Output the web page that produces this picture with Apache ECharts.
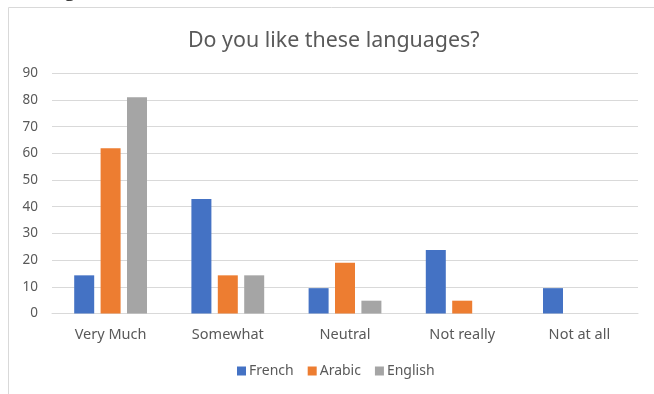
<!DOCTYPE html>
<html>
<head>
<meta charset="utf-8">
<script src="https://cdn.jsdelivr.net/npm/echarts@6/dist/echarts.min.js"></script>
<style>
  html, body { margin: 0; padding: 0; background: #ffffff; }
  #chart { width: 654px; height: 394px; }
</style>
</head>
<body>
<div id="chart"></div>
<script>
// Survey answers (share of 21 respondents, in %)
const categories = ['Very Much', 'Somewhat', 'Neutral', 'Not really', 'Not at all'];
const french  = [14.3, 42.9, 9.5, 23.8, 9.5];
const arabic  = [61.9, 14.3, 19.0, 4.8, 0];
const english = [81.0, 14.3, 4.8, 0, 0];
const yTicks  = [0, 10, 20, 30, 40, 50, 60, 70, 80, 90];

const FONT = 'Noto Sans';
const TEXT = '#595959';
const GRID = '#d9d9d9';

const chart = echarts.init(document.getElementById('chart'), null, { renderer: 'canvas' });

const bar = (name, data, color) => ({
  name, type: 'bar', data, barWidth: 20, barGap: '32%',
  itemStyle: { color },
  emphasis: { disabled: true }
});

chart.setOption({
  animation: false,
  textStyle: { fontFamily: FONT },
  title: {
    text: 'Do you like these languages?',
    left: 183, top: 25,
    textStyle: { fontFamily: FONT, fontSize: 21.4, fontWeight: 'normal', color: TEXT }
  },
  graphic: [
    { type: 'rect', shape: { x: 8.5, y: 7.5, width: 660, height: 420 },
      style: { fill: 'none', stroke: GRID, lineWidth: 1 }, silent: true, z: -1 },
    { type: 'text', left: 64, top: -21,
      style: { text: 'g', font: '22px "Liberation Serif"', fill: '#000000' }, silent: true }
  ],
  legend: {
    data: ['French', 'Arabic', 'English'],
    bottom: 11, left: 232,
    itemWidth: 9, itemHeight: 9, itemGap: 14,
    icon: 'rect',
    textStyle: { fontFamily: FONT, fontSize: 14, color: TEXT, padding: [0, 0, 0, -2] }
  },
  grid: { left: 52, right: 16, top: 73.3, bottom: 80.5, containLabel: false },
  xAxis: {
    type: 'category', data: categories,
    axisLine: { lineStyle: { color: GRID, width: 1 } },
    axisTick: { show: false },
    axisLabel: { fontFamily: FONT, fontSize: 14.5, color: TEXT, margin: 14 }
  },
  yAxis: {
    type: 'value', min: yTicks[0], max: yTicks[yTicks.length - 1], interval: 10,
    axisLine: { show: false }, axisTick: { show: false },
    splitLine: { lineStyle: { color: GRID, width: 1 } },
    axisLabel: { fontFamily: FONT, fontSize: 13.5, color: TEXT, margin: 14 }
  },
  series: [
    bar('French', french, '#4472c4'),
    bar('Arabic', arabic, '#ed7d31'),
    bar('English', english, '#a5a5a5')
  ]
});
</script>
</body>
</html>
